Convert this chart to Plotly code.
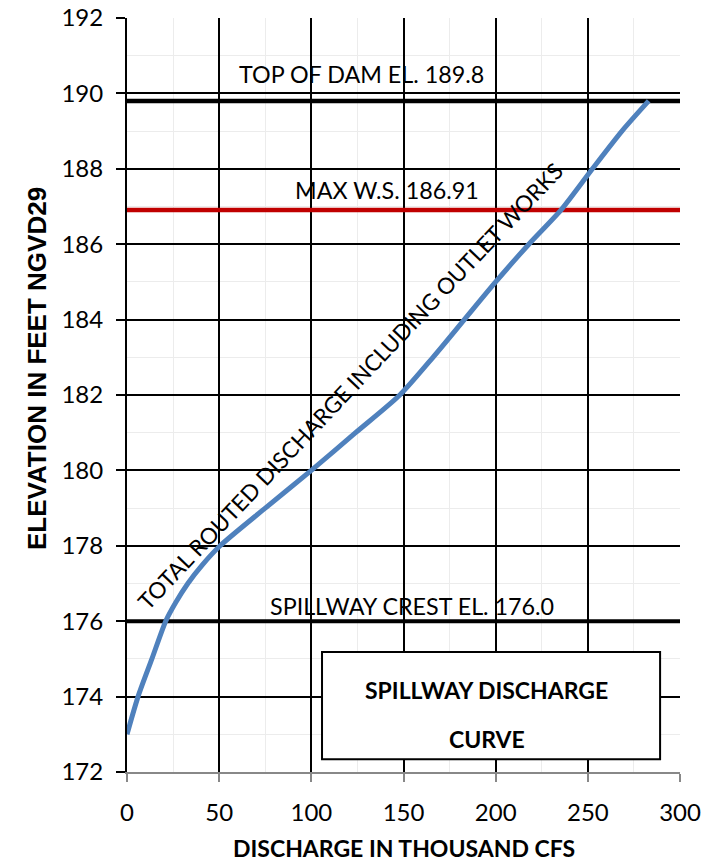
import plotly.graph_objects as go

# Curve data (discharge in thousand cfs, elevation ft NGVD29)
discharge = [0, 6, 13.5, 21, 26.5, 33, 41, 50.5, 75, 100, 124, 148, 166, 183, 200, 218, 235.5, 252.5, 268.5, 283]
elevation = [173, 174, 175, 176, 176.5, 177, 177.5, 178, 179, 180, 181, 182, 183, 184, 185, 186, 186.91, 188, 189, 189.8]

# Reference lines
ref_x = [0, 300]
top_of_dam = 189.8
max_ws = 186.91
spillway_crest = 176.0

x_ticks = [0, 50, 100, 150, 200, 250, 300]
y_ticks = [172, 174, 176, 178, 180, 182, 184, 186, 188, 190, 192]

FONT = "Lato, 'Open Sans', sans-serif"

fig = go.Figure()

fig.add_trace(go.Scatter(x=ref_x, y=[top_of_dam]*2, mode="lines",
                         line=dict(color="black", width=4.5), hoverinfo="skip"))
fig.add_trace(go.Scatter(x=ref_x, y=[max_ws]*2, mode="lines",
                         line=dict(color="#C00000", width=4.5), hoverinfo="skip"))
fig.add_trace(go.Scatter(x=ref_x, y=[spillway_crest]*2, mode="lines",
                         line=dict(color="black", width=4), hoverinfo="skip"))
fig.add_trace(go.Scatter(x=discharge, y=elevation, mode="lines",
                         line=dict(color="#4F81BD", width=5, shape="spline", smoothing=0.7)))

fig.update_layout(
    width=718, height=865,
    margin=dict(l=127, r=38, t=18, b=93),
    paper_bgcolor="white", plot_bgcolor="white",
    showlegend=False,
    font=dict(family=FONT, color="black"),
    xaxis=dict(range=[0, 300], tickvals=x_ticks, showgrid=True, gridcolor="black", gridwidth=2,
               minor=dict(dtick=25, showgrid=True, gridcolor="#ececec", gridwidth=1),
               showline=True, linecolor="#888888", linewidth=2,
               ticks="outside", tickcolor="#888888", ticklen=8, tickwidth=2,
               ticklabelstandoff=10, ticklabeloverflow="allow",
               tickfont=dict(size=24), zeroline=False, automargin=False),
    yaxis=dict(range=[172, 192], tickvals=y_ticks, showgrid=True, gridcolor="black", gridwidth=2,
               minor=dict(dtick=1, showgrid=True, gridcolor="#ececec", gridwidth=1),
               showline=True, linecolor="black", linewidth=2,
               ticks="outside", tickcolor="black", ticklen=9, tickwidth=2,
               ticklabelstandoff=8, ticklabeloverflow="allow",
               tickfont=dict(size=24), zeroline=False, automargin=False),
)

# axis titles
fig.add_annotation(xref="paper", yref="paper", x=0.5, y=-(848 - 772) / 754, yanchor="middle",
                   text="<b>DISCHARGE IN THOUSAND CFS</b>", showarrow=False,
                   font=dict(size=23))
fig.add_annotation(xref="paper", yref="paper", x=(37 - 127) / 553, y=(772 - 369) / 754,
                   xanchor="center", yanchor="middle", textangle=-90,
                   text="<b>ELEVATION IN FEET NGVD29</b>", showarrow=False,
                   font=dict(size=26, family="'Liberation Sans', Arial, sans-serif"))

fig.add_annotation(x=127, y=190.51, text="TOP OF DAM EL. 189.8", showarrow=False,
                   font=dict(size=23.3))
fig.add_annotation(x=141.3, y=187.45, text="MAX W.S. 186.91", showarrow=False,
                   font=dict(size=23.3))
fig.add_annotation(x=154.4, y=176.4, text="SPILLWAY CREST EL. 176.0", showarrow=False,
                   font=dict(size=23.3))
fig.add_annotation(x=121.5, y=182.24, text="TOTAL ROUTED DISCHARGE INCLUDING OUTLET WORKS",
                   showarrow=False, textangle=-46.5, font=dict(size=22.5))

fig.add_shape(type="rect", x0=105.8, x1=289.2, y0=172.34, y1=175.18, xref="x", yref="y",
              line=dict(color="black", width=2), fillcolor="white", layer="above")
fig.add_annotation(x=195.2, y=174.17, text="<b>SPILLWAY DISCHARGE</b>", showarrow=False,
                   font=dict(size=23))
fig.add_annotation(x=195.2, y=172.87, text="<b>CURVE</b>", showarrow=False,
                   font=dict(size=23))

# remove the default 8px page margin so the 718x865 figure fills the window exactly
fig.write_html("out.html", config={"displayModeBar": False},
               post_script="document.body.style.margin='0';document.body.style.overflow='hidden';")
